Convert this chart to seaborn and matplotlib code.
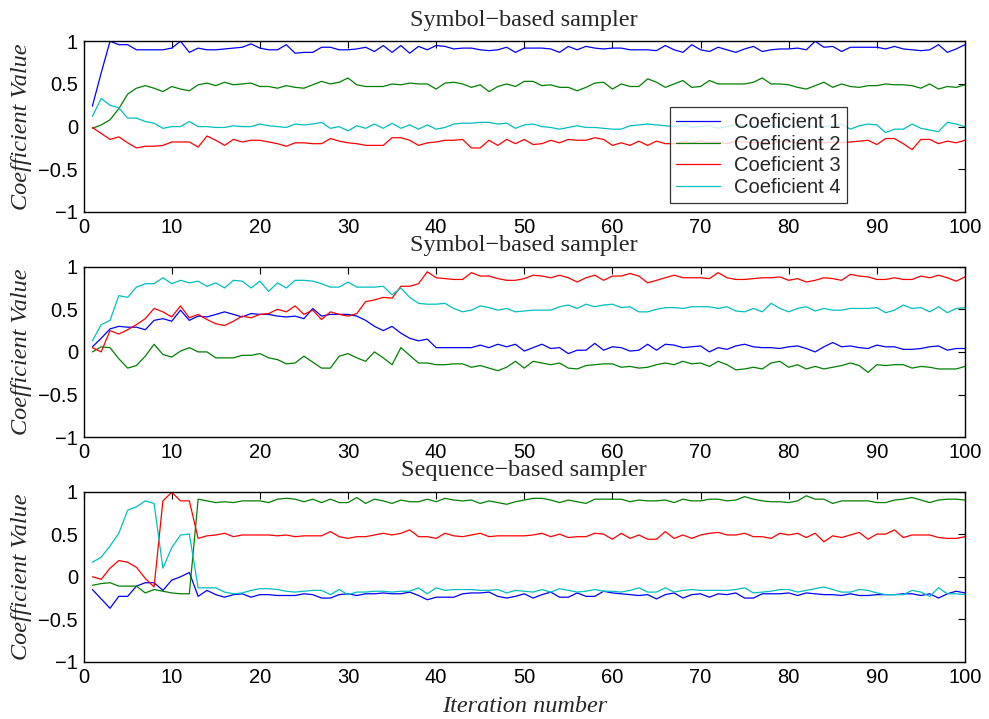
import numpy as np
import pandas as pd
import matplotlib
matplotlib.use("Agg")
import matplotlib.pyplot as plt
import seaborn as sns

iterations = list(range(1, 101))
series_names = ["Coeficient 1", "Coeficient 2", "Coeficient 3", "Coeficient 4"]
titles = ["Symbol\u2212based sampler", "Symbol\u2212based sampler", "Sequence\u2212based sampler"]
x_ticks = [0, 10, 20, 30, 40, 50, 60, 70, 80, 90, 100]
y_ticks = [-1, -0.5, 0, 0.5, 1]
y_tick_labels = ["\u22121", "\u22120.5", "0", "0.5", "1"]

# ---- Panel 1 (top) ----
top_c1 = [0.24, 0.63, 1.0, 0.96, 0.96, 0.9, 0.9, 0.9, 0.9, 0.92,
          1.0, 0.87, 0.92, 0.9, 0.9, 0.91, 0.92, 0.93, 0.97, 0.92,
          0.9, 0.9, 0.96, 0.86, 0.87, 0.87, 0.93, 0.93, 0.9, 0.9,
          0.91, 0.93, 0.88, 0.95, 0.87, 0.95, 0.86, 0.94, 0.9, 0.95,
          0.94, 0.91, 0.92, 0.92, 0.9, 0.89, 0.9, 0.93, 0.87, 0.92,
          0.92, 0.92, 0.91, 0.87, 0.94, 0.9, 0.94, 0.92, 0.91, 0.92,
          0.92, 0.9, 0.9, 0.9, 0.89, 0.95, 0.9, 0.87, 0.96, 0.9,
          0.88, 0.93, 0.9, 0.87, 0.91, 0.94, 0.88, 0.9, 0.91, 0.91,
          0.92, 0.9, 1.0, 0.93, 0.94, 0.88, 0.93, 0.93, 0.93, 0.93,
          0.91, 0.94, 0.91, 0.9, 0.89, 0.9, 0.96, 0.87, 0.91, 0.96]
top_c2 = [-0.02, 0.02, 0.08, 0.21, 0.38, 0.45, 0.48, 0.45, 0.41, 0.47,
          0.44, 0.42, 0.49, 0.51, 0.48, 0.52, 0.49, 0.5, 0.51, 0.47,
          0.47, 0.45, 0.48, 0.46, 0.45, 0.49, 0.53, 0.5, 0.52, 0.57,
          0.49, 0.47, 0.47, 0.47, 0.5, 0.49, 0.51, 0.5, 0.5, 0.44,
          0.51, 0.52, 0.5, 0.46, 0.49, 0.41, 0.47, 0.5, 0.47, 0.53,
          0.53, 0.48, 0.49, 0.46, 0.46, 0.42, 0.46, 0.51, 0.52, 0.44,
          0.5, 0.47, 0.47, 0.56, 0.52, 0.46, 0.5, 0.54, 0.46, 0.47,
          0.54, 0.5, 0.5, 0.5, 0.5, 0.52, 0.57, 0.5, 0.5, 0.49,
          0.46, 0.44, 0.48, 0.52, 0.46, 0.5, 0.47, 0.46, 0.48, 0.48,
          0.5, 0.49, 0.49, 0.48, 0.45, 0.5, 0.44, 0.47, 0.46, 0.49]
top_c3 = [-0.01, -0.08, -0.15, -0.12, -0.19, -0.25, -0.23, -0.23, -0.22, -0.18,
          -0.18, -0.18, -0.24, -0.11, -0.16, -0.22, -0.15, -0.18, -0.16, -0.16,
          -0.18, -0.2, -0.23, -0.19, -0.19, -0.2, -0.2, -0.14, -0.17, -0.19,
          -0.2, -0.22, -0.22, -0.22, -0.13, -0.13, -0.16, -0.22, -0.19, -0.18,
          -0.16, -0.16, -0.15, -0.25, -0.25, -0.16, -0.22, -0.15, -0.2, -0.15,
          -0.21, -0.2, -0.16, -0.19, -0.15, -0.16, -0.16, -0.13, -0.15, -0.22,
          -0.19, -0.22, -0.17, -0.22, -0.17, -0.2, -0.2, -0.18, -0.19, -0.17,
          -0.19, -0.18, -0.2, -0.17, -0.18, -0.19, -0.18, -0.2, -0.17, -0.18,
          -0.19, -0.17, -0.18, -0.19, -0.18, -0.19, -0.18, -0.17, -0.16, -0.21,
          -0.14, -0.14, -0.2, -0.27, -0.15, -0.15, -0.2, -0.17, -0.19, -0.16]
top_c4 = [0.12, 0.33, 0.25, 0.22, 0.1, 0.1, 0.06, 0.04, -0.02, 0.0,
          0.0, 0.06, 0.0, 0.0, -0.01, -0.01, 0.01, 0.0, 0.0, 0.03,
          0.01, 0.0, -0.01, 0.03, 0.02, 0.03, 0.05, -0.02, 0.0, -0.05,
          0.01, -0.02, 0.03, -0.02, 0.04, -0.02, 0.02, -0.03, 0.02, -0.03,
          -0.01, 0.03, 0.04, 0.04, 0.05, 0.05, 0.03, 0.04, -0.02, 0.02,
          0.03, 0.0, -0.01, -0.03, -0.01, 0.01, -0.01, -0.01, -0.02, -0.03,
          -0.03, 0.01, 0.02, 0.03, 0.02, 0.01, 0.0, 0.02, -0.01, 0.0,
          0.01, -0.02, 0.0, 0.02, 0.01, -0.01, 0.0, 0.02, -0.01, 0.01,
          0.0, 0.02, -0.01, 0.0, 0.01, 0.03, -0.03, 0.01, 0.03, 0.02,
          -0.07, -0.03, -0.03, 0.03, -0.02, -0.04, -0.06, 0.05, 0.03, 0.0]

# ---- Panel 2 (middle) ----
mid_c1 = [0.06, 0.16, 0.27, 0.3, 0.29, 0.29, 0.26, 0.37, 0.39, 0.36,
          0.49, 0.37, 0.42, 0.41, 0.44, 0.47, 0.44, 0.41, 0.45, 0.44,
          0.44, 0.42, 0.41, 0.42, 0.39, 0.51, 0.42, 0.44, 0.44, 0.44,
          0.42, 0.37, 0.3, 0.25, 0.3, 0.22, 0.16, 0.13, 0.15, 0.05,
          0.05, 0.05, 0.05, 0.05, 0.08, 0.05, 0.09, 0.06, 0.09, 0.01,
          0.05, 0.09, 0.04, 0.05, -0.02, 0.02, 0.02, 0.1, 0.02, 0.06,
          0.05, 0.01, 0.02, 0.09, 0.02, 0.09, 0.08, 0.05, 0.06, 0.07,
          0.0, 0.05, 0.03, 0.07, 0.09, 0.06, 0.05, 0.05, 0.04, 0.06,
          0.07, 0.04, 0.0, 0.06, 0.11, 0.06, 0.07, 0.05, 0.04, 0.08,
          0.06, 0.06, 0.03, 0.03, 0.04, 0.06, 0.07, 0.02, 0.04, 0.04]
mid_c2 = [0.0, 0.06, 0.05, -0.08, -0.19, -0.16, -0.05, 0.09, -0.03, -0.06,
          0.01, 0.05, 0.0, 0.0, -0.07, -0.07, -0.07, -0.04, -0.04, -0.02,
          -0.07, -0.09, -0.14, -0.13, -0.05, -0.12, -0.19, -0.19, -0.05, -0.02,
          -0.07, -0.11, 0.0, -0.07, -0.15, 0.05, -0.04, -0.13, -0.13, -0.15,
          -0.15, -0.14, -0.14, -0.18, -0.16, -0.19, -0.22, -0.18, -0.11, -0.19,
          -0.11, -0.13, -0.15, -0.13, -0.19, -0.2, -0.16, -0.15, -0.14, -0.14,
          -0.18, -0.17, -0.19, -0.18, -0.15, -0.13, -0.15, -0.11, -0.14, -0.13,
          -0.17, -0.11, -0.15, -0.21, -0.2, -0.18, -0.2, -0.13, -0.11, -0.18,
          -0.15, -0.2, -0.17, -0.2, -0.18, -0.16, -0.13, -0.16, -0.24, -0.15,
          -0.16, -0.15, -0.15, -0.19, -0.17, -0.18, -0.2, -0.2, -0.2, -0.17]
mid_c3 = [0.05, 0.0, 0.25, 0.21, 0.26, 0.32, 0.39, 0.51, 0.47, 0.41,
          0.54, 0.4, 0.44, 0.38, 0.33, 0.31, 0.36, 0.42, 0.4, 0.44,
          0.45, 0.5, 0.47, 0.54, 0.44, 0.49, 0.38, 0.47, 0.44, 0.42,
          0.45, 0.59, 0.61, 0.64, 0.63, 0.77, 0.77, 0.8, 0.94, 0.87,
          0.86, 0.85, 0.85, 0.93, 0.89, 0.89, 0.86, 0.84, 0.84, 0.86,
          0.9, 0.89, 0.87, 0.9, 0.87, 0.82, 0.87, 0.9, 0.84, 0.89,
          0.89, 0.92, 0.89, 0.81, 0.84, 0.87, 0.9, 0.87, 0.87, 0.87,
          0.86, 0.93, 0.87, 0.85, 0.85, 0.86, 0.87, 0.87, 0.88, 0.84,
          0.86, 0.82, 0.84, 0.87, 0.86, 0.84, 0.91, 0.89, 0.88, 0.85,
          0.85, 0.87, 0.85, 0.85, 0.89, 0.87, 0.9, 0.87, 0.83, 0.88]
mid_c4 = [0.13, 0.32, 0.37, 0.66, 0.64, 0.76, 0.8, 0.8, 0.87, 0.8,
          0.84, 0.81, 0.83, 0.77, 0.81, 0.75, 0.84, 0.83, 0.75, 0.83,
          0.71, 0.81, 0.75, 0.84, 0.84, 0.83, 0.8, 0.76, 0.76, 0.82,
          0.76, 0.76, 0.76, 0.77, 0.67, 0.75, 0.64, 0.57, 0.56, 0.56,
          0.57, 0.51, 0.47, 0.49, 0.54, 0.52, 0.49, 0.51, 0.47, 0.48,
          0.49, 0.49, 0.49, 0.53, 0.55, 0.51, 0.56, 0.53, 0.55, 0.56,
          0.52, 0.53, 0.47, 0.47, 0.5, 0.52, 0.52, 0.51, 0.53, 0.53,
          0.53, 0.51, 0.53, 0.48, 0.47, 0.51, 0.47, 0.57, 0.51, 0.47,
          0.51, 0.53, 0.48, 0.51, 0.49, 0.49, 0.51, 0.51, 0.51, 0.52,
          0.46, 0.49, 0.55, 0.51, 0.52, 0.47, 0.53, 0.46, 0.51, 0.52]

# ---- Panel 3 (bottom) ----
bot_c1 = [-0.15, -0.26, -0.37, -0.23, -0.23, -0.11, -0.07, -0.07, -0.16, -0.04,
          0.0, 0.05, -0.23, -0.16, -0.21, -0.24, -0.21, -0.2, -0.24, -0.21,
          -0.21, -0.22, -0.22, -0.22, -0.2, -0.21, -0.25, -0.25, -0.21, -0.2,
          -0.22, -0.2, -0.2, -0.19, -0.2, -0.2, -0.18, -0.22, -0.27, -0.24,
          -0.24, -0.24, -0.2, -0.19, -0.19, -0.18, -0.23, -0.25, -0.23, -0.2,
          -0.25, -0.21, -0.18, -0.24, -0.24, -0.19, -0.23, -0.23, -0.17, -0.19,
          -0.2, -0.21, -0.22, -0.21, -0.26, -0.21, -0.19, -0.25, -0.21, -0.2,
          -0.24, -0.2, -0.21, -0.19, -0.25, -0.25, -0.2, -0.2, -0.2, -0.19,
          -0.22, -0.19, -0.2, -0.21, -0.21, -0.22, -0.2, -0.22, -0.22, -0.21,
          -0.21, -0.21, -0.2, -0.2, -0.22, -0.2, -0.25, -0.2, -0.17, -0.19]
bot_c2 = [-0.1, -0.08, -0.07, -0.11, -0.11, -0.11, -0.19, -0.15, -0.17, -0.19,
          -0.2, -0.2, 0.91, 0.89, 0.87, 0.88, 0.87, 0.89, 0.89, 0.89,
          0.87, 0.91, 0.92, 0.91, 0.88, 0.91, 0.87, 0.91, 0.87, 0.87,
          0.93, 0.86, 0.91, 0.89, 0.86, 0.9, 0.88, 0.88, 0.91, 0.88,
          0.92, 0.9, 0.89, 0.9, 0.86, 0.89, 0.87, 0.85, 0.88, 0.9,
          0.92, 0.92, 0.9, 0.87, 0.9, 0.88, 0.86, 0.91, 0.91, 0.91,
          0.91, 0.88, 0.9, 0.89, 0.89, 0.9, 0.87, 0.91, 0.89, 0.89,
          0.91, 0.91, 0.89, 0.9, 0.94, 0.91, 0.89, 0.88, 0.88, 0.87,
          0.89, 0.95, 0.91, 0.91, 0.86, 0.89, 0.89, 0.89, 0.89, 0.87,
          0.87, 0.9, 0.91, 0.93, 0.9, 0.87, 0.9, 0.91, 0.91, 0.9]
bot_c3 = [0.0, -0.03, 0.1, 0.19, 0.17, 0.11, -0.02, -0.12, 0.89, 0.99,
          0.89, 0.89, 0.45, 0.48, 0.49, 0.51, 0.47, 0.49, 0.49, 0.49,
          0.49, 0.48, 0.49, 0.47, 0.48, 0.48, 0.48, 0.53, 0.47, 0.45,
          0.47, 0.47, 0.49, 0.51, 0.49, 0.51, 0.55, 0.47, 0.47, 0.45,
          0.51, 0.48, 0.47, 0.49, 0.51, 0.47, 0.48, 0.48, 0.48, 0.48,
          0.49, 0.51, 0.47, 0.5, 0.46, 0.47, 0.47, 0.51, 0.5, 0.44,
          0.51, 0.45, 0.49, 0.44, 0.44, 0.53, 0.45, 0.49, 0.45, 0.49,
          0.51, 0.52, 0.49, 0.49, 0.51, 0.47, 0.47, 0.45, 0.51, 0.49,
          0.51, 0.46, 0.51, 0.41, 0.48, 0.46, 0.49, 0.52, 0.44, 0.5,
          0.5, 0.55, 0.46, 0.49, 0.49, 0.49, 0.46, 0.45, 0.45, 0.47]
bot_c4 = [0.17, 0.23, 0.36, 0.51, 0.78, 0.82, 0.89, 0.86, 0.1, 0.34,
          0.49, 0.5, -0.13, -0.13, -0.13, -0.18, -0.2, -0.19, -0.16, -0.14,
          -0.14, -0.15, -0.17, -0.18, -0.17, -0.16, -0.16, -0.21, -0.15, -0.21,
          -0.18, -0.18, -0.17, -0.17, -0.18, -0.17, -0.17, -0.13, -0.2, -0.13,
          -0.16, -0.15, -0.15, -0.15, -0.16, -0.16, -0.15, -0.19, -0.16, -0.17,
          -0.18, -0.15, -0.18, -0.14, -0.16, -0.18, -0.17, -0.15, -0.17, -0.17,
          -0.18, -0.16, -0.13, -0.18, -0.18, -0.13, -0.18, -0.16, -0.15, -0.16,
          -0.16, -0.16, -0.16, -0.15, -0.13, -0.19, -0.18, -0.17, -0.15, -0.15,
          -0.18, -0.16, -0.14, -0.12, -0.15, -0.18, -0.18, -0.15, -0.16, -0.19,
          -0.21, -0.21, -0.21, -0.16, -0.18, -0.23, -0.13, -0.2, -0.2, -0.21]

panels = [
    [top_c1, top_c2, top_c3, top_c4],
    [mid_c1, mid_c2, mid_c3, mid_c4],
    [bot_c1, bot_c2, bot_c3, bot_c4],
]
colors = ["#0000ff", "#008000", "#ff0000", "#00bfbf"]
palette = dict(zip(series_names, colors))

sns.set_style("white")
plt.rcParams["font.family"] = ["Liberation Sans", "DejaVu Sans"]
plt.rcParams["axes.unicode_minus"] = True

fig = plt.figure(figsize=(9.89, 7.19), dpi=100)
left, right = 0.0845, 0.9757
axes_rects = [(0.7052, 0.9426), (0.3920, 0.6291), (0.0793, 0.3164)]

serif = ["Liberation Serif", "DejaVu Serif"]

for k, (series, (b, t)) in enumerate(zip(panels, axes_rects)):
    ax = fig.add_axes([left, b, right - left, t - b])
    rows = []
    for name, vals in zip(series_names, series):
        for it, v in zip(iterations, vals):
            rows.append({"Iteration": it, "Value": v, "Series": name})
    df = pd.DataFrame(rows)
    sns.lineplot(data=df, x="Iteration", y="Value", hue="Series",
                 palette=palette, estimator=None, linewidth=0.9,
                 ax=ax, legend=(k == 0))
    ax.set_xlim(0, 100)
    ax.set_ylim(-1, 1)
    ax.set_xticks(x_ticks)
    ax.set_xticklabels([str(v) for v in x_ticks])
    ax.set_yticks(y_ticks)
    ax.set_yticklabels(y_tick_labels)
    ax.tick_params(direction="in", top=True, right=True, length=5, width=0.8,
                   labelsize=14.5, colors="black", pad=4)
    for sp in ax.spines.values():
        sp.set_visible(True)
        sp.set_color("black")
        sp.set_linewidth(1.0)
    ax.set_title(titles[k], fontsize=17.5, family=serif, pad=11)
    ax.set_ylabel("Coefficient Value", fontsize=17.5, family=serif,
                  style="italic")
    ax.yaxis.set_label_coords(-0.058, 0.5)
    if k == 2:
        ax.set_xlabel("Iteration number", fontsize=17.5, family=serif,
                      style="italic")
        ax.xaxis.set_label_coords(0.5, -0.20)
    else:
        ax.set_xlabel("")
    if k == 0:
        leg = ax.legend(loc="lower left", bbox_to_anchor=(0.665, 0.054),
                        fontsize=14.5, frameon=True, fancybox=False,
                        handlelength=2.2, handletextpad=0.7,
                        borderpad=0.3, labelspacing=0.12, borderaxespad=0)
        leg.get_frame().set_edgecolor("black")
        leg.get_frame().set_linewidth(0.9)
        leg.set_title(None)
        for line in leg.get_lines():
            line.set_linewidth(0.9)

fig.savefig("out.png", dpi=100)
